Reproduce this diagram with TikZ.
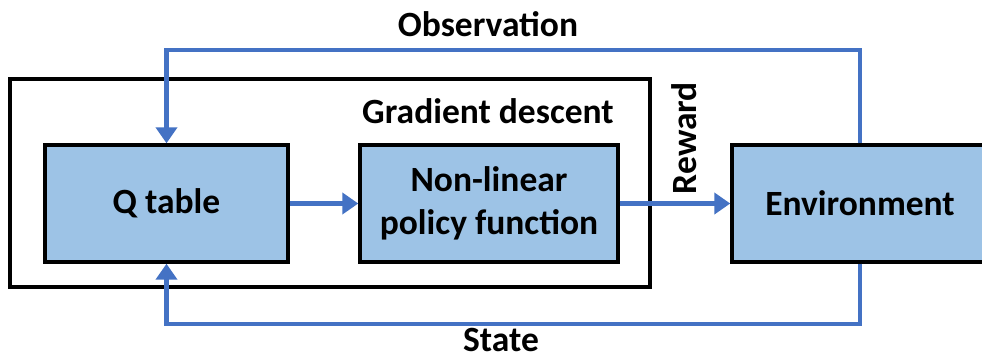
\documentclass[tikz,border=0pt]{standalone}
\usepackage{fontspec}
\setmainfont{Carlito}
\usetikzlibrary{arrows.meta}
\definecolor{boxfill}{HTML}{9DC3E6}
\definecolor{flowblue}{HTML}{4472C4}
\tikzset{
  blk/.style={draw=black, line width=3.4pt, fill=boxfill, minimum height=117pt, inner sep=0pt, align=center,
    font=\bfseries\fontsize{35.5}{43}\selectfont},
  flow/.style={draw=flowblue, line width=4.5pt, -{Triangle[length=16pt,width=21pt]}},
  lbl/.style={font=\bfseries\fontsize{35.5}{43}\selectfont, inner sep=0pt}
}
\begin{document}
\begin{tikzpicture}[x=1pt,y=-1pt]
\clip (0,0) rectangle (982,354);
\fill[white] (0,0) rectangle (982,354);
% outer gradient descent frame
\draw[line width=4pt] (10,79) rectangle (650,287);
\node[blk, minimum width=243pt] (q) at (166.5,203.5) {Q table};
\node[blk, minimum width=258pt] (nl) at (489,203.5) {Non-linear\\policy function};
\node[blk, minimum width=256pt] (env) at (860,203.5) {Environment};
\node[lbl] (gd) at (488,111) {Gradient descent};
\node[lbl] (obs) at (488,24) {Observation};
\node[lbl] (st) at (501,340) {State};
\node[lbl, rotate=90] (rw) at (684,138) {Reward};
\coordinate (obsR) at (860,50);
\coordinate (stR) at (860,324);
\draw[flow] (env.north) -- (obsR) -| (q.north);
\draw[flow] (env.south) -- (stR) -| (q.south);
\draw[flow] (q.east) -- (nl.west);
\draw[flow] (nl.east) -- (env.west);
\end{tikzpicture}
\end{document}
